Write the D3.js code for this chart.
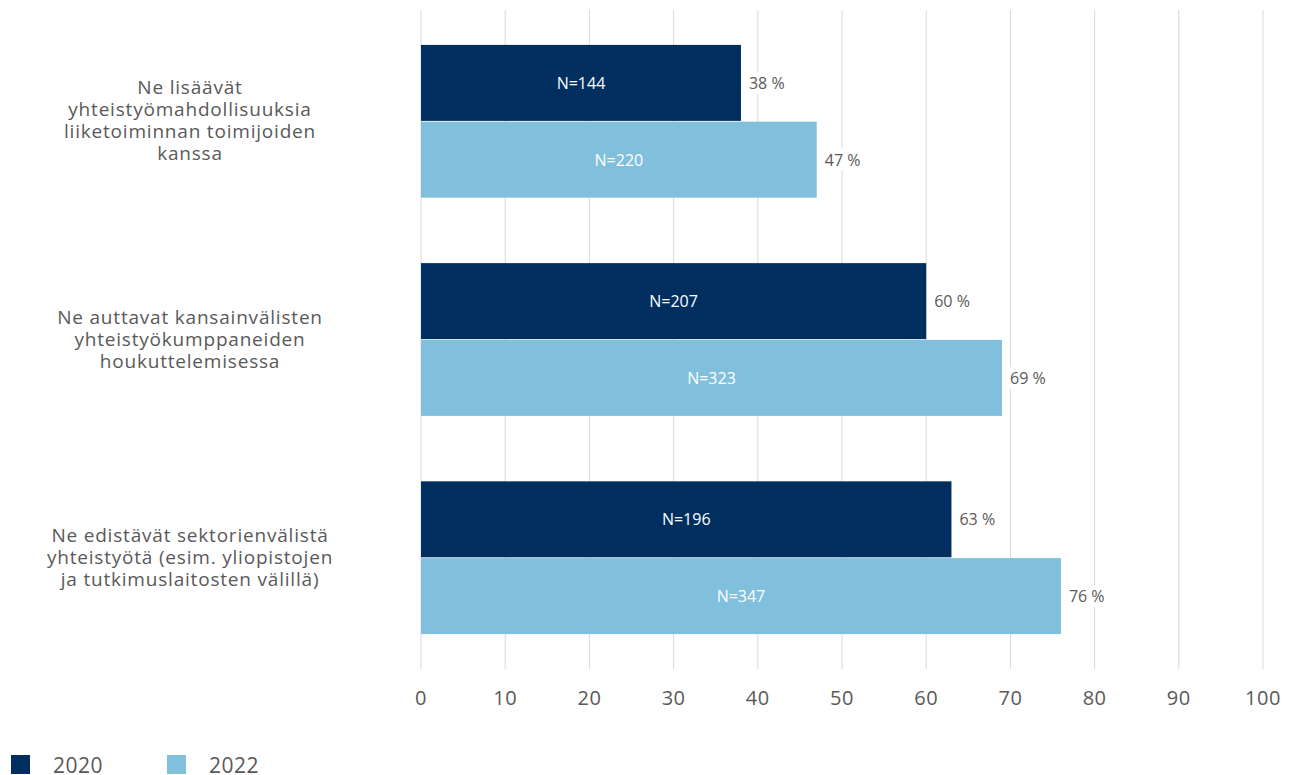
<!DOCTYPE html>
<html>
<head>
<meta charset="utf-8">
<script src="https://cdn.jsdelivr.net/npm/d3@7"></script>
<style>
  body { margin: 0; background: #fff; }
  text { font-family: "Open Sans", Lato, sans-serif; }
</style>
</head>
<body>
<div id="chart"></div>
<script>
// data
const categories = [
  ["Ne lisäävät", "yhteistyömahdollisuuksia", "liiketoiminnan toimijoiden", "kanssa"],
  ["Ne auttavat kansainvälisten", "yhteistyökumppaneiden", "houkuttelemisessa"],
  ["Ne edistävät sektorienvälistä", "yhteistyötä (esim. yliopistojen", "ja tutkimuslaitosten välillä)"]
];
const years = ["2020", "2022"];
const values2020 = [38, 60, 63];
const values2022 = [47, 69, 76];
const n2020 = [144, 207, 196];
const n2022 = [220, 323, 347];
const ticks = [0, 10, 20, 30, 40, 50, 60, 70, 80, 90, 100];

const colors = { "2020": "#002f5f", "2022": "#80c0dd" };

const width = 1290, height = 775;
const margin = { top: 10, left: 421, right: 27, bottom: 106 };

const svg = d3.select("#chart").append("svg")
    .attr("width", width)
    .attr("height", height);

const x = d3.scaleLinear()
    .domain([0, 100])
    .range([margin.left, width - margin.right]);

const y = d3.scaleBand()
    .domain(d3.range(categories.length))
    .range([margin.top, height - margin.bottom])
    .paddingInner(0.3)
    .paddingOuter(0.16);

const sub = d3.scaleBand()
    .domain(years)
    .range([0, y.bandwidth()])
    .paddingInner(0.01);

// gridlines
svg.append("g")
  .selectAll("line")
  .data(ticks)
  .enter().append("line")
    .attr("x1", d => x(d))
    .attr("x2", d => x(d))
    .attr("y1", margin.top)
    .attr("y2", height - margin.bottom)
    .style("stroke", "#d9d9d9")
    .style("stroke-width", 1);

// tick labels
svg.append("g")
  .selectAll("text")
  .data(ticks)
  .enter().append("text")
    .attr("x", d => x(d))
    .attr("y", 705)
    .attr("text-anchor", "middle")
    .style("font-size", "20px")
    .style("letter-spacing", "0.5px")
    .style("fill", "#595959")
    .text(d => d);

// bar data
const rows = [];
categories.forEach(function(c, i) {
    rows.push({ i: i, year: "2020", v: values2020[i], n: n2020[i] });
    rows.push({ i: i, year: "2022", v: values2022[i], n: n2022[i] });
});

const g = svg.append("g");

g.selectAll("rect.bar")
  .data(rows)
  .enter().append("rect")
    .attr("class", "bar")
    .attr("x", x(0))
    .attr("y", d => y(d.i) + sub(d.year))
    .attr("width", d => x(d.v) - x(0))
    .attr("height", sub.bandwidth())
    .style("fill", d => colors[d.year]);

// N labels inside
g.selectAll("text.n")
  .data(rows)
  .enter().append("text")
    .attr("class", "n")
    .attr("x", d => (x(0) + x(d.v)) / 2)
    .attr("y", d => y(d.i) + sub(d.year) + sub.bandwidth() / 2 + 6)
    .attr("text-anchor", "middle")
    .style("font-size", "16px")
    .style("fill", "#fff")
    .text(d => "N=" + d.n);

// value labels with white box
const vl = g.selectAll("g.val")
  .data(rows)
  .enter().append("g")
    .attr("class", "val")
    .attr("transform", d => "translate(" + (x(d.v) + 2) + "," + (y(d.i) + sub(d.year) + sub.bandwidth() / 2) + ")");

vl.append("rect")
    .attr("x", 0)
    .attr("y", -11)
    .attr("width", 50)
    .attr("height", 22)
    .style("fill", "#fff");

vl.append("text")
    .attr("x", 6)
    .attr("y", 6)
    .style("font-size", "16px")
    .style("fill", "#595959")
    .text(d => d.v + " %");

// category labels
const lineH = 22;
svg.append("g")
  .selectAll("text")
  .data(categories)
  .enter().append("text")
    .attr("text-anchor", "middle")
    .attr("x", 190)
    .attr("y", (d, i) => y(i) + y.bandwidth() / 2 - (d.length - 1) * lineH / 2 + 6)
    .style("font-size", "19px")
    .style("letter-spacing", "0.8px")
    .style("fill", "#595959")
    .each(function(d) {
        d3.select(this).selectAll("tspan")
          .data(d)
          .enter().append("tspan")
            .attr("x", 190)
            .attr("dy", (t, j) => j === 0 ? 0 : lineH)
            .text(t => t);
    });

// legend
const legend = svg.append("g")
  .selectAll("g")
  .data(years)
  .enter().append("g")
    .attr("transform", (d, i) => "translate(" + (11 + i * 156) + ",755)");

legend.append("rect")
    .attr("width", 19)
    .attr("height", 19)
    .style("fill", d => colors[d]);

legend.append("text")
    .attr("x", 42)
    .attr("y", 18)
    .style("font-size", "21px")
    .style("letter-spacing", "0.5px")
    .style("fill", "#595959")
    .text(d => d);
</script>
</body>
</html>
